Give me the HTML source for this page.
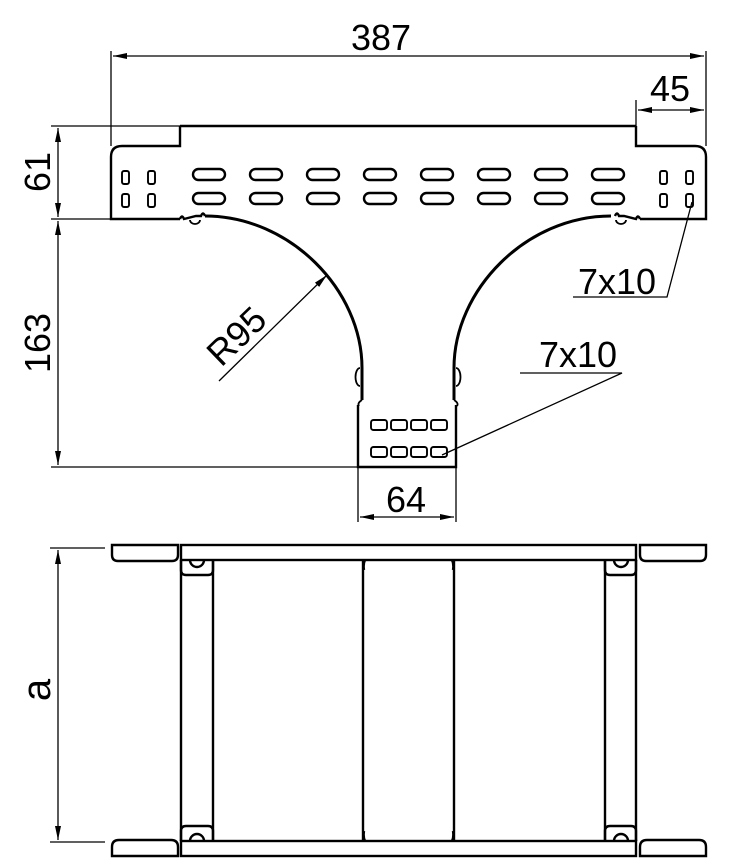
<!DOCTYPE html>
<html><head><meta charset="utf-8"><style>
html,body{margin:0;padding:0;background:#fff}
svg{display:block}
text{font-family:"Liberation Sans",sans-serif;fill:#000}
</style></head><body>
<svg width="746" height="865" viewBox="0 0 746 865" xmlns="http://www.w3.org/2000/svg">
<defs>
<marker id="ar" viewBox="0 0 14 6" refX="14" refY="3" markerWidth="14" markerHeight="6" orient="auto-start-reverse" markerUnits="userSpaceOnUse"><path d="M0,0 L14,3 L0,6 z" fill="#000"/></marker>
</defs>
<g fill="none" stroke="#000" stroke-width="1.3">
<line x1="111" y1="51" x2="111" y2="146"/>
<line x1="706" y1="51" x2="706" y2="146"/>
<line x1="113" y1="56" x2="704" y2="56" marker-start="url(#ar)" marker-end="url(#ar)"/>
<line x1="638" y1="110" x2="704" y2="110" marker-start="url(#ar)" marker-end="url(#ar)"/>
<line x1="636" y1="100" x2="636" y2="126"/>
<line x1="51" y1="126" x2="180" y2="126"/>
<line x1="51" y1="219" x2="111" y2="219"/>
<line x1="58" y1="128" x2="58" y2="217" marker-start="url(#ar)" marker-end="url(#ar)"/>
<line x1="51" y1="467" x2="358" y2="467"/>
<line x1="58" y1="221" x2="58" y2="465" marker-start="url(#ar)" marker-end="url(#ar)"/>
<line x1="358" y1="467" x2="358" y2="522"/>
<line x1="456" y1="467" x2="456" y2="522"/>
<line x1="360" y1="517" x2="454" y2="517" marker-start="url(#ar)" marker-end="url(#ar)"/>
<line x1="50" y1="548" x2="105" y2="548"/>
<line x1="50" y1="842" x2="105" y2="842"/>
<line x1="58" y1="550" x2="58" y2="840" marker-start="url(#ar)" marker-end="url(#ar)"/>
<line x1="219" y1="381" x2="327" y2="275" marker-end="url(#ar)"/>
<polyline points="573,297 667,297 692,202"/>
<polyline points="520,373 622,373 442,455"/>
</g>
<g fill="none" stroke="#000" stroke-width="2.4">
<path d="M180,126 L636,126"/>
<path d="M180,126 L180,146 L122,146 Q111,146 111,157 L111,219 L180,219"/>
<path d="M636,126 L636,146 L695,146 Q706,146 706,157 L706,219 L640,219"/>
<path d="M180,219 q2,-5 4,0 l12,-3 l5,0 q2,-5 4,0"/>
<path d="M640,219 q-2,-5 -4,0 l-12,-3 l-5,0 q-2,-5 -4,0"/>
<path d="M358,405 L358,467 L456,467 L456,405"/>
</g>
<g fill="none" stroke="#000" stroke-width="3">
<path d="M205,216 C290,216 362,290 362,368 L362,400"/>
<path d="M611,216 C526,216 454,290 454,368 L454,400"/>
</g>
<g fill="none" stroke="#000" stroke-width="1.8">
<path d="M190,220 a5,4 0 0 0 10,0"/>
<path d="M626,220 a5,4 0 0 1 -10,0"/>
<path d="M360,368 a4,8 0 0 0 0,18"/>
<path d="M456,368 a4,8 0 0 1 0,18"/>
<path d="M362,400 q-5,3 -3,6"/>
<path d="M454,400 q5,3 3,6"/>
</g>
<g fill="none" stroke="#000" stroke-width="2.4">
<g id="ov">
<rect x="193" y="169" width="32" height="11" rx="5.5"/>
<rect x="193" y="193" width="32" height="11" rx="5.5"/>
</g>
<use href="#ov" x="57"/><use href="#ov" x="114"/><use href="#ov" x="171"/><use href="#ov" x="228"/><use href="#ov" x="285"/><use href="#ov" x="342"/><use href="#ov" x="399"/>
</g>
<g fill="none" stroke="#000" stroke-width="1.9">
<rect x="122" y="171" width="7" height="13" rx="2"/>
<rect x="148" y="171" width="7" height="13" rx="2"/>
<rect x="122" y="194" width="7" height="13" rx="2"/>
<rect x="148" y="194" width="7" height="13" rx="2"/>
<rect x="660" y="171" width="7" height="13" rx="2"/>
<rect x="686" y="171" width="7" height="13" rx="2"/>
<rect x="660" y="194" width="7" height="13" rx="2"/>
<rect x="686" y="194" width="7" height="13" rx="2"/>
<rect x="371" y="420" width="16" height="10" rx="2.5"/>
<rect x="391" y="420" width="16" height="10" rx="2.5"/>
<rect x="411" y="420" width="16" height="10" rx="2.5"/>
<rect x="431" y="420" width="16" height="10" rx="2.5"/>
<rect x="371" y="447" width="16" height="10" rx="2.5"/>
<rect x="391" y="447" width="16" height="10" rx="2.5"/>
<rect x="411" y="447" width="16" height="10" rx="2.5"/>
<rect x="431" y="447" width="16" height="10" rx="2.5"/>
</g>
<g fill="none" stroke="#000" stroke-width="2.4">
<path d="M112,545 L178,545 L178,555 Q178,561 172,561 L118,561 Q112,561 112,555 Z"/>
<path d="M640,545 L706,545 L706,555 Q706,561 700,561 L646,561 Q640,561 640,555 Z"/>
<path d="M112,856 L178,856 L178,847 Q178,840 171,840 L119,840 Q112,840 112,847 Z"/>
<path d="M640,856 L706,856 L706,847 Q706,840 699,840 L647,840 Q640,840 640,847 Z"/>
<rect x="181" y="545" width="455" height="15"/>
<rect x="181" y="841" width="455" height="15"/>
<path d="M181,560 L181,841 M213,560 L213,841"/>
<path d="M605,560 L605,841 M636,560 L636,841"/>
<path d="M181,560 L181,570 Q181,575 186,575 L208,575 Q213,575 213,570 L213,560"/>
<path d="M605,560 L605,570 Q605,575 610,575 L631,575 Q636,575 636,570 L636,560"/>
<path d="M181,841 L181,831 Q181,826 186,826 L208,826 Q213,826 213,831 L213,841"/>
<path d="M605,841 L605,831 Q605,826 610,826 L631,826 Q636,826 636,831 L636,841"/>
<path d="M190,560 a7,7 0 0 0 14,0"/>
<path d="M614,560 a7,7 0 0 0 14,0"/>
<path d="M190,841 a7,7 0 0 1 14,0"/>
<path d="M614,841 a7,7 0 0 1 14,0"/>
<path d="M363,560 L363,841 M454,560 L454,841"/>
<path d="M365,560 q-2,4 -1,10 M452,560 q2,4 1,10 M365,841 q-2,-4 -1,-10 M452,841 q2,-4 1,-10"/>
</g>
<text x="381" y="50" font-size="36" text-anchor="middle">387</text>
<text x="670" y="101" font-size="36" text-anchor="middle">45</text>
<text x="406" y="512" font-size="36" text-anchor="middle">64</text>
<text x="617" y="294" font-size="36" text-anchor="middle">7x10</text>
<text x="578" y="367" font-size="36" text-anchor="middle">7x10</text>
<text transform="translate(50,172) rotate(-90)" font-size="36" text-anchor="middle">61</text>
<text transform="translate(50,343) rotate(-90)" font-size="36" text-anchor="middle">163</text>
<text transform="translate(50,690) rotate(-90)" font-size="40" text-anchor="middle">a</text>
<text transform="translate(245,345) rotate(-44)" font-size="36" text-anchor="middle">R95</text>
</svg>
</body></html>
